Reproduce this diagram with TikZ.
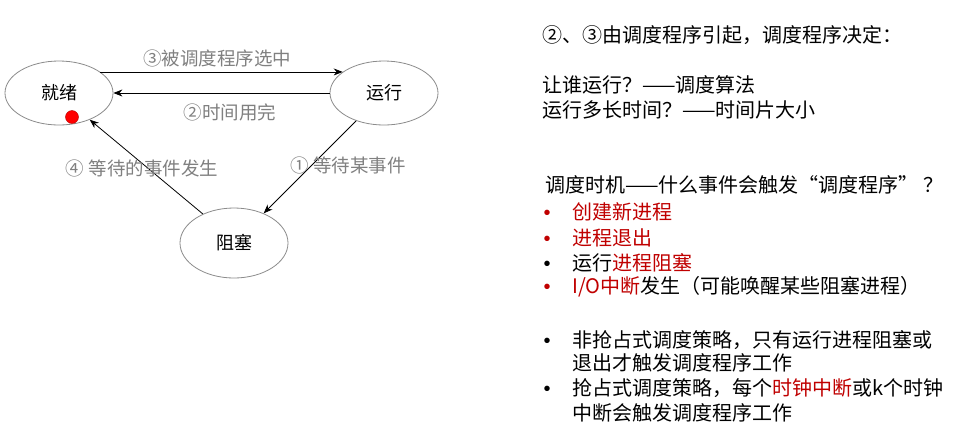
\documentclass[tikz,border=0pt]{standalone}
\usepackage{fontspec}
\setmainfont{Noto Sans CJK SC}
\newfontfamily\bulfont{Liberation Sans}
\usetikzlibrary{shapes.geometric,arrows.meta}
\definecolor{lblgray}{RGB}{128,128,128}
\definecolor{edgegray}{RGB}{140,140,140}
\definecolor{hred}{RGB}{192,0,0}
\newcommand{\bul}[1][black]{\makebox[28.5pt][l]{\textcolor{#1}{\bulfont •}}}
\begin{document}
\begin{tikzpicture}[x=1pt,y=-1pt,
  state/.style={ellipse,draw=edgegray,line width=0.8pt,minimum width=108pt,minimum height=64pt,inner sep=0pt,font=\fontsize{18}{18}\selectfont},
  edge/.style={-{Stealth[length=9pt,width=7pt]},line width=0.8pt},
  lbl/.style={text=lblgray,font=\fontsize{18.5}{18.5}\selectfont,inner sep=0pt},
  txt/.style={anchor=west,inner sep=0pt,font=\fontsize{20}{20}\selectfont}]
\useasboundingbox[fill=white] (0,0) rectangle (975,432);
% states
\node[state] (ready) at (59,93) {就绪};
\node[state] (run) at (384,93) {运行};
\node[state,minimum height=70pt] (block) at (234,243) {阻塞};
% transitions
\draw[edge] (ready.27) -- (run.153);
\draw[edge] (run.west) -- (ready.east);
\draw[edge] (run.225) -- (block.45);
\draw[edge] (block.137) -- (ready.319);
\node[circle,fill=red,draw=red!70!black,minimum size=13pt,inner sep=0pt] (dot) at (72,117) {};
% labels
\node[lbl] (l3) at (217,58) {③被调度程序选中};
\node[lbl] (l2) at (230,112) {②时间用完};
\node[lbl] (l1) at (348,165) {① 等待某事件};
\node[lbl] (l4) at (142,168) {④ 等待的事件发生};
% right text
\node[txt] (t1) at (542,35) {②、③由调度程序引起，调度程序决定：};
\node[txt] (t2) at (542,85) {让谁运行？——调度算法};
\node[txt] (t3) at (542,110) {运行多长时间？——时间片大小};
\node[txt] (t4) at (545,185) {调度时机——什么事件会触发“调度程序” ？};
\node[txt] (s1) at (543.5,212) {\bul[hred]\textcolor{hred}{创建新进程}};
\node[txt] (s2) at (543.5,238) {\bul[hred]\textcolor{hred}{进程退出}};
\node[txt] (s3) at (543.5,263) {\bul 运行\textcolor{hred}{进程阻塞}};
\node[txt] (s4) at (543.5,287) {\bul[hred]\textcolor{hred}{I/O中断}发生（可能唤醒某些阻塞进程）};
\node[txt] (s5) at (543.5,340) {\bul 非抢占式调度策略，只有运行进程阻塞或};
\node[txt] (s6) at (572,363) {退出才触发调度程序工作};
\node[txt] (s7) at (543.5,388) {\bul 抢占式调度策略，每个\textcolor{hred}{时钟中断}或k个时钟};
\node[txt] (s8) at (572,413) {中断会触发调度程序工作};
\end{tikzpicture}
\end{document}
